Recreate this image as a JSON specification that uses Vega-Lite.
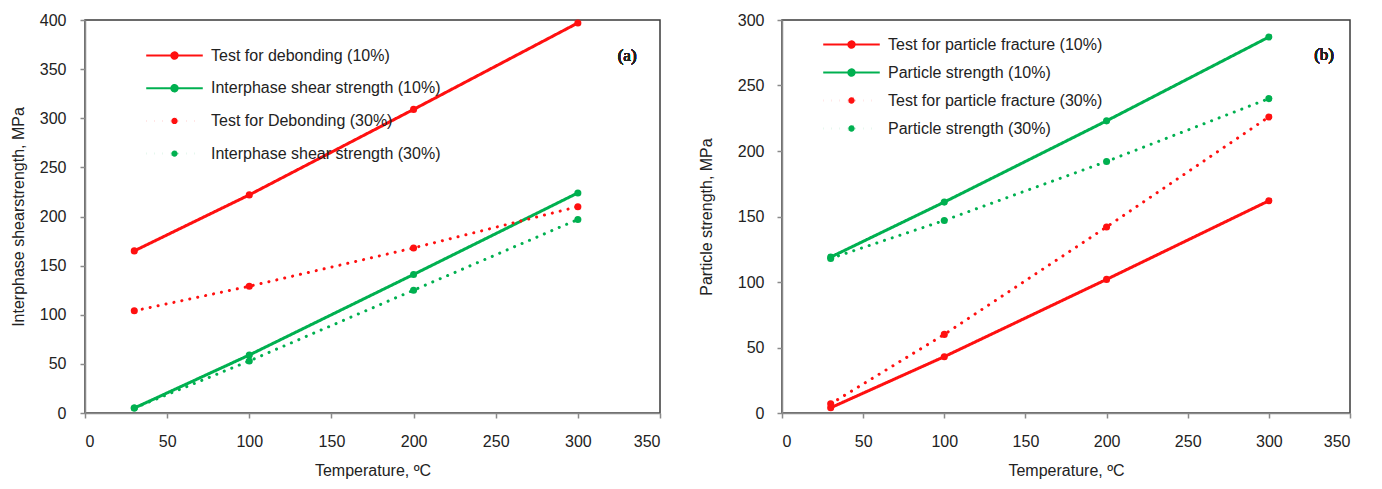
{
  "$schema": "https://vega.github.io/schema/vega-lite/v6.json",
  "padding": {"left": 9, "top": 11, "right": 5, "bottom": 5},
  "background": "white",
  "spacing": 35,
  "config": {
    "font": "Liberation Sans",
    "view": {"stroke": "#3a3a3a", "strokeWidth": 1.5},
    "axis": {
      "grid": false,
      "domainColor": "#8a8a8a",
      "domainWidth": 1.5,
      "tickColor": "#8a8a8a",
      "tickWidth": 1.5,
      "tickSize": 5,
      "labelFont": "Liberation Sans",
      "labelFontSize": 16,
      "labelColor": "#222222",
      "titleFont": "Liberation Sans",
      "titleFontSize": 16,
      "titleFontWeight": "normal",
      "titleColor": "#222222"
    }
  },
  "datasets": {
    "a": [
      {"series": "Test for debonding (10%)", "t": 30, "v": 165},
      {"series": "Test for debonding (10%)", "t": 100, "v": 222},
      {"series": "Test for debonding (10%)", "t": 200, "v": 309},
      {"series": "Test for debonding (10%)", "t": 300, "v": 397},
      {"series": "Interphase shear strength (10%)", "t": 30, "v": 5},
      {"series": "Interphase shear strength (10%)", "t": 100, "v": 59},
      {"series": "Interphase shear strength (10%)", "t": 200, "v": 141},
      {"series": "Interphase shear strength (10%)", "t": 300, "v": 224},
      {"series": "Test for Debonding (30%)", "t": 30, "v": 104},
      {"series": "Test for Debonding (30%)", "t": 100, "v": 129},
      {"series": "Test for Debonding (30%)", "t": 200, "v": 168},
      {"series": "Test for Debonding (30%)", "t": 300, "v": 210},
      {"series": "Interphase shear strength (30%)", "t": 30, "v": 5},
      {"series": "Interphase shear strength (30%)", "t": 100, "v": 53},
      {"series": "Interphase shear strength (30%)", "t": 200, "v": 125},
      {"series": "Interphase shear strength (30%)", "t": 300, "v": 197}
    ],
    "b": [
      {"series": "Test for particle fracture (10%)", "t": 30, "v": 4},
      {"series": "Test for particle fracture (10%)", "t": 100, "v": 43},
      {"series": "Test for particle fracture (10%)", "t": 200, "v": 102},
      {"series": "Test for particle fracture (10%)", "t": 300, "v": 162},
      {"series": "Particle strength (10%)", "t": 30, "v": 119},
      {"series": "Particle strength (10%)", "t": 100, "v": 161},
      {"series": "Particle strength (10%)", "t": 200, "v": 223},
      {"series": "Particle strength (10%)", "t": 300, "v": 287},
      {"series": "Test for particle fracture (30%)", "t": 30, "v": 7},
      {"series": "Test for particle fracture (30%)", "t": 100, "v": 60},
      {"series": "Test for particle fracture (30%)", "t": 200, "v": 142},
      {"series": "Test for particle fracture (30%)", "t": 300, "v": 226},
      {"series": "Particle strength (30%)", "t": 30, "v": 118},
      {"series": "Particle strength (30%)", "t": 100, "v": 147},
      {"series": "Particle strength (30%)", "t": 200, "v": 192},
      {"series": "Particle strength (30%)", "t": 300, "v": 240}
    ]
  },
  "resolve": {"scale": {"color": "independent", "strokeDash": "independent", "x": "independent", "y": "independent"}, "legend": {"color": "independent", "strokeDash": "independent"}},
  "hconcat": [
    {
      "width": 575,
      "height": 393,
      "data": {"name": "a"},
      "encoding": {
        "x": {"field": "t", "type": "quantitative", "scale": {"domain": [0, 350]}, "axis": {"values": [0, 50, 100, 150, 200, 250, 300, 350], "title": "Temperature, ºC", "labelPadding": 15, "titlePadding": 13}},
        "y": {"field": "v", "type": "quantitative", "scale": {"domain": [0, 400]}, "axis": {"values": [0, 50, 100, 150, 200, 250, 300, 350, 400], "title": "Interphase shearstrength, MPa", "labelPadding": 14, "titlePadding": 13}}
      },
      "layer": [
        {
          "mark": {"type": "line", "strokeWidth": 3, "strokeCap": "round"},
          "encoding": {
            "color": {"field": "series", "type": "nominal", "scale": {"domain": ["Test for debonding (10%)", "Interphase shear strength (10%)", "Test for Debonding (30%)", "Interphase shear strength (30%)"], "range": ["#ff1010", "#00b050", "#ff1010", "#00b050"]},
              "legend": {"orient": "none", "legendX": 60, "legendY": 27, "title": null, "symbolType": "M-4,0H4M0.45,0A0.45,0.45,0,1,1,-0.45,0A0.45,0.45,0,1,1,0.45,0", "symbolSize": 200, "symbolOffset": 21, "labelOffset": 28, "rowPadding": 15.7, "labelFontSize": 16, "labelLimit": 500, "labelFont": "Liberation Sans", "labelColor": "#222222", "symbolStrokeWidth": 2}},
            "strokeDash": {"field": "series", "type": "nominal", "scale": {"domain": ["Test for debonding (10%)", "Interphase shear strength (10%)", "Test for Debonding (30%)", "Interphase shear strength (30%)"], "range": [[1, 0], [1, 0], [0.1, 8], [0.1, 8]]},
              "legend": {"orient": "none", "legendX": 60, "legendY": 27, "title": null, "symbolType": "M-4,0H4M0.45,0A0.45,0.45,0,1,1,-0.45,0A0.45,0.45,0,1,1,0.45,0", "symbolSize": 200, "symbolOffset": 21, "labelOffset": 28, "rowPadding": 15.7, "labelFontSize": 16, "labelLimit": 500, "labelFont": "Liberation Sans", "labelColor": "#222222", "symbolStrokeWidth": 2}}
          }
        },
        {
          "mark": {"type": "point", "filled": true, "size": 50, "opacity": 1},
          "encoding": {
            "color": {"field": "series", "type": "nominal", "scale": {"domain": ["Test for debonding (10%)", "Interphase shear strength (10%)", "Test for Debonding (30%)", "Interphase shear strength (30%)"], "range": ["#ff1010", "#00b050", "#ff1010", "#00b050"]}}
          }
        },
        {
          "mark": {"type": "text", "font": "Liberation Serif", "fontSize": 17, "fontWeight": "normal", "color": "#222222", "align": "center", "baseline": "middle"},
          "encoding": {"x": {"datum": 330}, "y": {"datum": 363}, "text": {"value": "(a)"}}
        }
      ]
    },
    {
      "width": 568,
      "height": 393,
      "data": {"name": "b"},
      "encoding": {
        "x": {"field": "t", "type": "quantitative", "scale": {"domain": [0, 350]}, "axis": {"values": [0, 50, 100, 150, 200, 250, 300, 350], "title": "Temperature, ºC", "labelPadding": 15, "titlePadding": 13}},
        "y": {"field": "v", "type": "quantitative", "scale": {"domain": [0, 300]}, "axis": {"values": [0, 50, 100, 150, 200, 250, 300], "title": "Particle strength, MPa", "labelPadding": 13, "titlePadding": 23}}
      },
      "layer": [
        {
          "mark": {"type": "line", "strokeWidth": 3, "strokeCap": "round"},
          "encoding": {
            "color": {"field": "series", "type": "nominal", "scale": {"domain": ["Test for particle fracture (10%)", "Particle strength (10%)", "Test for particle fracture (30%)", "Particle strength (30%)"], "range": ["#ff1010", "#00b050", "#ff1010", "#00b050"]},
              "legend": {"orient": "none", "legendX": 40, "legendY": 16, "title": null, "symbolType": "M-4,0H4M0.45,0A0.45,0.45,0,1,1,-0.45,0A0.45,0.45,0,1,1,0.45,0", "symbolSize": 200, "symbolOffset": 21, "labelOffset": 28, "rowPadding": 11, "labelFontSize": 16, "labelLimit": 500, "labelFont": "Liberation Sans", "labelColor": "#222222", "symbolStrokeWidth": 2}},
            "strokeDash": {"field": "series", "type": "nominal", "scale": {"domain": ["Test for particle fracture (10%)", "Particle strength (10%)", "Test for particle fracture (30%)", "Particle strength (30%)"], "range": [[1, 0], [1, 0], [0.1, 8], [0.1, 8]]},
              "legend": {"orient": "none", "legendX": 40, "legendY": 16, "title": null, "symbolType": "M-4,0H4M0.45,0A0.45,0.45,0,1,1,-0.45,0A0.45,0.45,0,1,1,0.45,0", "symbolSize": 200, "symbolOffset": 21, "labelOffset": 28, "rowPadding": 11, "labelFontSize": 16, "labelLimit": 500, "labelFont": "Liberation Sans", "labelColor": "#222222", "symbolStrokeWidth": 2}}
          }
        },
        {
          "mark": {"type": "point", "filled": true, "size": 50, "opacity": 1},
          "encoding": {
            "color": {"field": "series", "type": "nominal", "scale": {"domain": ["Test for particle fracture (10%)", "Particle strength (10%)", "Test for particle fracture (30%)", "Particle strength (30%)"], "range": ["#ff1010", "#00b050", "#ff1010", "#00b050"]}}
          }
        },
        {
          "mark": {"type": "text", "font": "Liberation Serif", "fontSize": 17, "fontWeight": "normal", "color": "#222222", "align": "center", "baseline": "middle"},
          "encoding": {"x": {"datum": 334}, "y": {"datum": 273}, "text": {"value": "(b)"}}
        }
      ]
    }
  ]
}
